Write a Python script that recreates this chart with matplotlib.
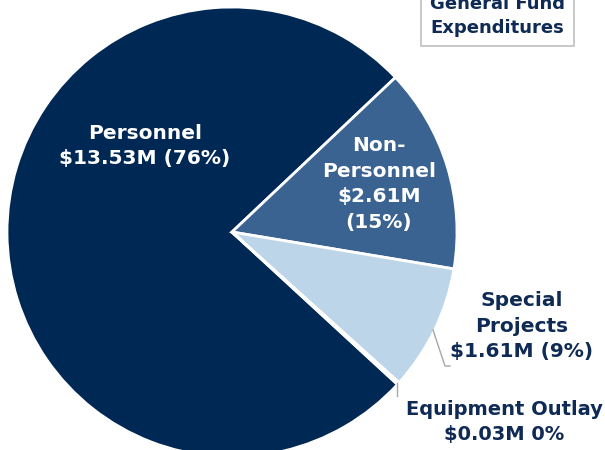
import matplotlib.pyplot as plt

labels = ['Personnel', 'Non-Personnel', 'Special Projects', 'Equipment Outlay']
values = [13.53, 2.61, 1.61, 0.03]
percents = ['76%', '15%', '9%', '0%']
colors = ['#002855', '#3A6391', '#BDD5E8', '#8FAADC']

navy = '#0E2A55'
total = sum(values)

fig = plt.figure(figsize=(6.05, 4.5), dpi=100)
ax = fig.add_axes([0, 0, 1, 1])

# pie sits in pixel coordinates, partly cut off at the bottom
start = 43.4 + 360 * values[0] / total
ax.pie(values, colors=colors, startangle=start, counterclock=False,
       center=(232, 218), radius=225, frame=True,
       wedgeprops=dict(edgecolor='white', linewidth=2))
ax.set_xlim(0, 605)
ax.set_ylim(0, 450)
ax.set_aspect('equal')
ax.axis('off')

fs = 14.5
ls = 1.45
ax.text(145, 450 - 146, 'Personnel\n$%.2fM (%s)' % (values[0], percents[0]),
        color='white', fontsize=fs, fontweight='bold', ha='center', va='center', linespacing=ls)
ax.text(379, 450 - 184, 'Non-\nPersonnel\n$%.2fM\n(%s)' % (values[1], percents[1]),
        color='white', fontsize=fs, fontweight='bold', ha='center', va='center', linespacing=ls)
ax.text(522, 450 - 326, 'Special\nProjects\n$%.2fM (%s)' % (values[2], percents[2]),
        color=navy, fontsize=fs, fontweight='bold', ha='center', va='center', linespacing=ls)
ax.text(504, 450 - 422, 'Equipment Outlay\n$%.2fM %s' % (values[3], percents[3]),
        color=navy, fontsize=14, fontweight='bold', ha='center', va='center', linespacing=ls)

# leader lines
ax.plot([433, 445, 450], [450 - 330, 450 - 366, 450 - 366], color='#A6A6A6', lw=1)
ax.plot([397, 397], [450 - 383, 450 - 396], color='#A6A6A6', lw=1)

# title box (cut off at the top, as in the original slide)
ax.text(430, 450 - 16, 'General Fund\nExpenditures', color=navy, fontsize=13,
        fontweight='bold', ha='left', va='center', linespacing=1.45,
        bbox=dict(boxstyle='square,pad=0.5', facecolor='white', edgecolor='#BFBFBF', lw=1.2))

fig.savefig('out.png', dpi=100)
